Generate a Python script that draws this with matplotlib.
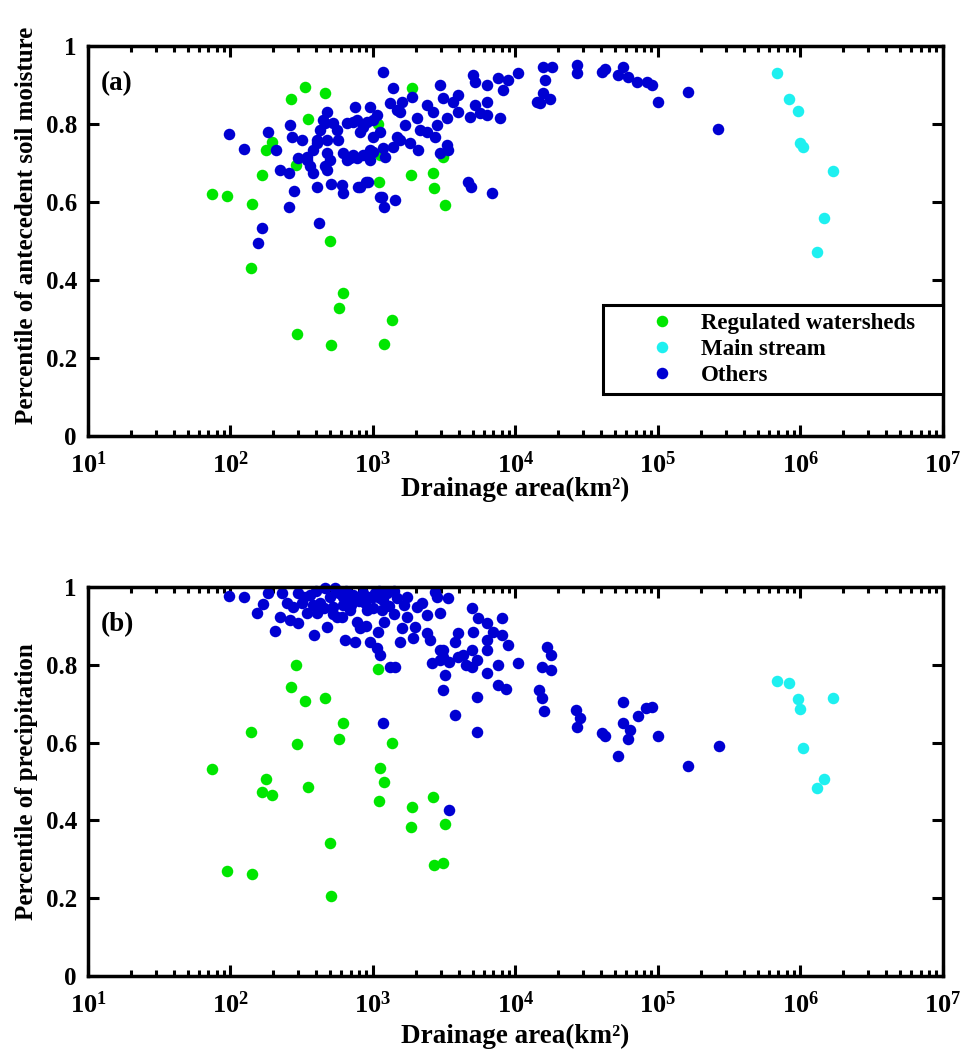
import matplotlib
matplotlib.use("Agg")
import matplotlib.pyplot as plt
import numpy as np

plt.rcParams['font.family'] = ['Liberation Serif', 'DejaVu Serif']
plt.rcParams['font.weight'] = 'bold'
plt.rcParams['mathtext.default'] = 'regular'

# regulated watersheds: same drainage areas in both panels
reg_area = [74, 94, 139, 142, 166, 178, 195, 266, 290, 295, 333, 350, 460, 499,
            507, 580, 615, 1084, 1101, 1119, 1193, 1358, 1849, 1879, 2637, 2680,
            3100, 3200]
reg_soil = [0.621, 0.616, 0.430, 0.596, 0.668, 0.734, 0.754, 0.864, 0.696, 0.261,
            0.895, 0.813, 0.880, 0.499, 0.233, 0.327, 0.366, 0.800, 0.650, 0.720,
            0.235, 0.297, 0.670, 0.893, 0.675, 0.637, 0.716, 0.593]
reg_prec = [0.532, 0.270, 0.627, 0.262, 0.473, 0.506, 0.465, 0.743, 0.800, 0.596,
            0.707, 0.486, 0.715, 0.342, 0.206, 0.609, 0.650, 0.789, 0.450, 0.535,
            0.499, 0.599, 0.383, 0.434, 0.460, 0.285, 0.290, 0.391]

# main stream stations
main_area = [684e3, 830e3, 960e3, 991e3, 1.04e6, 1.69e6, 1.46e6, 1.31e6]
main_soil = [0.931, 0.864, 0.834, 0.752, 0.742, 0.680, 0.558, 0.471]
main_prec = [0.758, 0.753, 0.712, 0.686, 0.586, 0.715, 0.506, 0.483]

# others, panel (a)
oth_area_a = [97.5, 124, 183, 208, 222, 257, 262, 270, 279, 257, 166, 156, 418, 298,
              318, 361, 405, 507, 606, 615, 785, 893, 475, 460, 425, 405, 380, 344,
              475, 475, 460, 524, 568, 615, 690, 773, 657, 748, 773, 851, 953, 1000,
              1000, 953, 953, 1175, 1156, 1193, 1425, 1381, 1316, 1473, 1473, 1381,
              1213, 1600, 1879, 1547, 1679, 2037, 2393, 2952, 3100, 2637, 2810, 3305,
              3640, 3945, 3945, 2393, 2722, 2138, 5032, 5200, 6310, 7540, 8850, 10420,
              8170, 6310, 5200, 4800, 5640, 6310, 7780, 724, 907, 1067, 1119, 811,
              724, 851, 1000, 1175, 1547, 1820, 2070, 2952, 3305, 3360, 811, 922,
              1119, 4650, 4900, 6840, 14170, 15600, 18040, 16100, 15600, 14860, 17450,
              27000, 27000, 40500, 42500, 56800, 52400, 61500, 71200, 83700, 90800,
              100000, 162600, 263500, 445, 560, 405, 499, 344, 657, 475, 380]
oth_soil = [0.775, 0.737, 0.780, 0.734, 0.683, 0.675, 0.798, 0.767, 0.629, 0.586,
            0.532, 0.494, 0.545, 0.714, 0.760, 0.691, 0.639, 0.647, 0.644, 0.624,
            0.639, 0.650, 0.831, 0.803, 0.785, 0.760, 0.734, 0.708, 0.760, 0.726,
            0.691, 0.803, 0.760, 0.726, 0.714, 0.714, 0.803, 0.844, 0.811, 0.793,
            0.844, 0.811, 0.767, 0.734, 0.708, 0.934, 0.614, 0.588, 0.604, 0.893,
            0.854, 0.836, 0.767, 0.742, 0.716, 0.857, 0.870, 0.831, 0.798, 0.816,
            0.849, 0.900, 0.867, 0.831, 0.798, 0.816, 0.857, 0.875, 0.831, 0.780,
            0.767, 0.785, 0.926, 0.908, 0.900, 0.918, 0.913, 0.931, 0.887, 0.857,
            0.849, 0.818, 0.829, 0.824, 0.816, 0.806, 0.806, 0.824, 0.780, 0.780,
            0.721, 0.721, 0.729, 0.739, 0.760, 0.752, 0.734, 0.726, 0.747, 0.734,
            0.639, 0.650, 0.614, 0.650, 0.639, 0.624, 0.857, 0.946, 0.946, 0.913,
            0.880, 0.854, 0.864, 0.951, 0.931, 0.934, 0.941, 0.946, 0.926, 0.921,
            0.908, 0.908, 0.900, 0.857, 0.882, 0.788, 0.811, 0.785, 0.752, 0.708,
            0.716, 0.708, 0.683, 0.675]

# others, panel (b)
oth_area_b = [97.5, 124, 183, 169, 153, 205, 230, 222, 275, 298, 262, 385, 344, 361,
              460, 541, 475, 425, 524, 615, 606, 690, 773, 637, 748, 811, 953, 1030,
              1175, 907, 1084, 953, 1067, 1119, 1473, 1734, 1600, 1547, 2037, 1970,
              1909, 2393, 2510, 2810, 2952, 3100, 2952, 1316, 1425, 405, 560, 690,
              1000, 1119, 1734, 2722, 3360, 2393, 4950, 5450, 8040, 6310, 5032, 6960,
              3945, 3770, 6310, 8040, 8850, 6310, 2952, 3100, 2600, 3430, 3945, 4270,
              4950, 5350, 4500, 4950, 3200, 3100, 6310, 7540, 10420, 7540, 8600, 5350,
              3770, 5350, 1175, 3430, 16600, 17750, 15370, 17750, 14530, 15370, 15880,
              26600, 28500, 27000, 40500, 42500, 56800, 56800, 63700, 62000, 72300,
              82000, 90800, 100000, 52400, 162600, 268000,
              300, 330, 400, 500, 580, 650, 720, 850, 1100, 1250, 1400, 380, 450, 520,
              620, 880, 1000, 1150, 1300, 1650, 2200, 250, 320, 700, 800, 1200, 1400, 900]
oth_prec = [0.977, 0.974, 0.985, 0.956, 0.933, 0.887, 0.985, 0.923, 0.949, 0.907,
            0.915, 0.877, 0.933, 0.979, 0.997, 0.997, 0.897, 0.959, 0.949, 0.974,
            0.923, 0.941, 0.910, 0.864, 0.859, 0.895, 0.974, 0.985, 0.967, 0.941,
            0.884, 0.859, 0.843, 0.825, 0.972, 0.974, 0.895, 0.859, 0.949, 0.897,
            0.869, 0.882, 0.864, 0.974, 0.933, 0.838, 0.812, 0.794, 0.794, 0.933,
            0.923, 0.972, 0.974, 0.972, 0.923, 0.987, 0.972, 0.928, 0.946, 0.920,
            0.920, 0.907, 0.884, 0.884, 0.882, 0.859, 0.864, 0.877, 0.851, 0.838,
            0.838, 0.820, 0.805, 0.807, 0.820, 0.825, 0.838, 0.812, 0.800, 0.794,
            0.774, 0.735, 0.779, 0.800, 0.805, 0.748, 0.738, 0.717, 0.671, 0.627,
            0.650, 0.427, 0.846, 0.825, 0.794, 0.787, 0.735, 0.715, 0.681, 0.684,
            0.663, 0.640, 0.625, 0.617, 0.704, 0.650, 0.632, 0.609, 0.668, 0.689,
            0.692, 0.617, 0.566, 0.540, 0.591,
            0.985, 0.975, 0.990, 0.975, 0.985, 0.990, 0.980, 0.985, 0.990, 0.985,
            0.990, 0.955, 0.945, 0.930, 0.955, 0.960, 0.945, 0.940, 0.950, 0.955,
            0.960, 0.960, 0.960, 0.955, 0.965, 0.910, 0.930, 0.900]

green = '#00e600'
cyan = '#1ef0f0'
blue = '#0000d2'
ms = 8.3

fig = plt.figure(figsize=(9.66, 10.59), dpi=100)
ax1 = fig.add_axes([0.0911, 0.5883, 0.885, 0.3683])
ax2 = fig.add_axes([0.0911, 0.0784, 0.885, 0.3673])

panels = [(ax1, reg_soil, main_soil, oth_area_a, oth_soil,
           'Percentile of antecedent soil moisture', '(a)', -0.106, 0.54),
          (ax2, reg_prec, main_prec, oth_area_b, oth_prec,
           'Percentile of precipitation', '(b)', -0.124, 0.5)]

for ax, ry, my, ox, oy, ylab, tag, xl_y, yl_y in panels:
    ax.plot(reg_area, ry, 'o', color=green, ms=ms, mec='none', clip_on=False,
            label='Regulated watersheds')
    ax.plot(main_area, my, 'o', color=cyan, ms=ms, mec='none', clip_on=False,
            label='Main stream')
    ax.plot(ox, oy, 'o', color=blue, ms=ms, mec='none', clip_on=False,
            label='Others')
    ax.set_xscale('log')
    ax.set_xlim(10, 1e7)
    ax.set_ylim(0, 1)
    ax.set_xticks([10.0 ** k for k in range(1, 8)])
    ax.set_xticklabels([r'$10^{%d}$' % k for k in range(1, 8)])
    ax.set_yticks([0, 0.2, 0.4, 0.6, 0.8, 1])
    ax.set_yticklabels(['0', '0.2', '0.4', '0.6', '0.8', '1'])
    ax.tick_params(which='both', direction='in', top=True, right=True, width=2.2)
    ax.tick_params(axis='x', which='major', labelsize=19, pad=11)
    ax.tick_params(axis='y', which='major', labelsize=18, pad=8)
    ax.tick_params(which='major', length=8)
    ax.tick_params(which='minor', length=4)
    for s in ax.spines.values():
        s.set_linewidth(2.5)
        s.set_zorder(5)
    ax.set_xlabel('Drainage area(km²)', fontsize=19.5, fontweight='bold')
    ax.set_ylabel(ylab, fontsize=18, fontweight='bold')
    ax.xaxis.set_label_coords(0.5, xl_y)
    ax.yaxis.set_label_coords(-0.058, yl_y)
    ax.text(0.015, 0.904, tag, transform=ax.transAxes, fontsize=19.5,
            fontweight='bold', va='center', ha='left')

leg = ax1.legend(loc='upper left', bbox_to_anchor=(0.602, 0.107, 0.398, 0.228),
                 mode='expand', borderaxespad=0, labelspacing=0.2,
                 borderpad=0.35, handlelength=4.5, handletextpad=-0.55,
                 fancybox=False, framealpha=1, edgecolor='black',
                 prop={'weight': 'bold', 'size': 16.5})
leg.get_frame().set_linewidth(2.2)

fig.savefig('out.png', dpi=100)
